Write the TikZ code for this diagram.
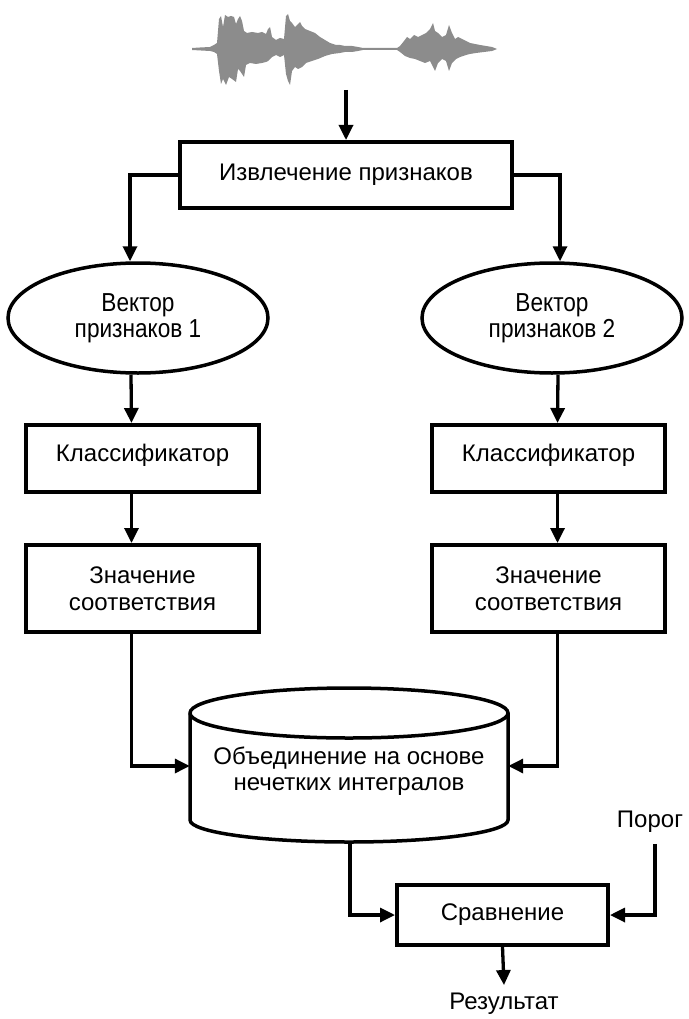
\documentclass[tikz,border=0pt]{standalone}
\usepackage{fontspec}
\setmainfont{Liberation Sans}
\newfontfamily\narrowsans[FakeStretch=0.87]{Liberation Sans}
\usetikzlibrary{arrows.meta,shapes.geometric}
\begin{document}
\begin{tikzpicture}[x=1pt,y=-1pt,
  box/.style={draw, line width=4pt, fill=white, align=center, inner sep=0pt,
    font=\fontsize{24}{27}\selectfont},
  ell/.style={draw, ellipse, line width=3.5pt, align=center, inner sep=0pt,
    font=\narrowsans\fontsize{26}{26}\selectfont},
  conn/.style={line width=3.3pt, -{Triangle[length=15pt,width=14pt]}},
  lbl/.style={inner sep=0pt, font=\fontsize{24}{27}\selectfont},
  wave/.style={fill=black!45, draw=none}]
\useasboundingbox (0,0) rectangle (688,1019);

% waveform
\path[wave] (192,48) -- (200,47.5) -- (210,47) -- (214,45) -- (217,43) -- (219,19) -- (221,16) -- (223,27) -- (225,15) -- (228,17) -- (231,16) -- (234,17) -- (236,24) -- (238,19) -- (240,16) -- (242,21) -- (244,31) -- (247,33) -- (252,32) -- (258,33) -- (262,32) -- (266,34) -- (268,29) -- (270,27) -- (272,37) -- (276,40) -- (280,38) -- (284,39) -- (286,16) -- (288,14) -- (290,21) -- (292,23) -- (295,27) -- (298,24) -- (300,22) -- (302,26) -- (305,29) -- (310,31) -- (315,33) -- (320,37) -- (325,40) -- (330,43) -- (336,45) -- (340,45) -- (345,46) -- (352,46) -- (358,47) -- (363,48) -- (397,48) -- (400,46) -- (404,41) -- (407,37) -- (410,39) -- (414,35) -- (418,37) -- (422,35) -- (426,33) -- (430,29) -- (433,23) -- (435,31) -- (438,33) -- (442,37) -- (446,35) -- (449,25) -- (452,33) -- (455,39) -- (458,37) -- (462,39) -- (466,41) -- (470,43) -- (475,44) -- (480,45) -- (486,46) -- (492,47) -- (497,49)
 -- (492,51) -- (484,52) -- (476,53) -- (470,54) -- (466,55) -- (460,57) -- (456,59) -- (452,63) -- (449,71) -- (446,61) -- (442,59) -- (438,63) -- (435,71) -- (430,61) -- (425,63) -- (420,61) -- (415,59) -- (410,58) -- (405,56) -- (400,52) -- (397,50) -- (363,50) -- (358,51) -- (352,52) -- (345,52) -- (340,53) -- (332,54) -- (325,56) -- (318,59) -- (312,61) -- (306,63) -- (302,67) -- (298,69) -- (295,67) -- (292,71) -- (290,85) -- (288,81) -- (286,74) -- (284,55) -- (280,57) -- (276,55) -- (272,57) -- (268,61) -- (266,62) -- (262,63) -- (256,64) -- (250,63) -- (246,65) -- (244,77) -- (240,71) -- (238,69) -- (236,82) -- (232,79) -- (229,77) -- (226,85) -- (223,79) -- (221,84) -- (219,71) -- (217,54) -- (214,52) -- (210,51) -- (192,50) -- cycle;
\coordinate (wav) at (346,90);

% nodes
\node[box, minimum width=332pt, minimum height=66pt] (extract) at (346,175) {Извлечение признаков};
\node[ell, minimum width=260pt, minimum height=110pt] (v1) at (138,318) {Вектор\\признаков 1};
\node[ell, minimum width=260pt, minimum height=110pt] (v2) at (552,318) {Вектор\\признаков 2};
\node[box, minimum width=233pt, minimum height=67pt, text height=17.5pt, text depth=11pt] (c1) at (142.5,458.5) {Классификатор};
\node[box, minimum width=233pt, minimum height=67pt, text height=17.5pt, text depth=11pt] (c2) at (548.5,458.5) {Классификатор};
\node[box, minimum width=233pt, minimum height=87pt] (m1) at (142.5,588.5) {Значение\\соответствия};
\node[box, minimum width=233pt, minimum height=87pt] (m2) at (548.5,588.5) {Значение\\соответствия};

% cylinder
\path[draw, fill=white, line width=3.5pt] (190,713) -- (190,820)
  arc[start angle=180, end angle=360, x radius=159pt, y radius=22pt]
  -- (508,713)
  arc[start angle=0, end angle=180, x radius=159pt, y radius=25pt] -- cycle;
\draw[line width=3.5pt] (190,713) arc[start angle=180, end angle=360, x radius=159pt, y radius=25pt];
\node[lbl, align=center, minimum width=318pt, font=\fontsize{24}{26}\selectfont] (fz) at (349,771) {Объединение на основе\\нечетких интегралов};
\coordinate (cylb) at (350,842);

\node[box, minimum width=211pt, minimum height=60pt] (cmp) at (502.5,915) {Сравнение};
\node[lbl] (thr) at (650,822) {Порог};
\node[lbl] (res) at (504,1004) {Результат};

% connectors
\draw[conn] (wav) -- (extract.north);
\draw[conn] (extract.west) -| ([xshift=-8pt]v1.north);
\draw[conn] (extract.east) -| ([xshift=8pt]v2.north);
\draw[conn] ([xshift=-7pt]v1.south) -- ([xshift=-11pt]c1.north);
\draw[conn] ([xshift=6pt]v2.south) -- ([xshift=9pt]c2.north);
\draw[conn] ([xshift=-11pt]c1.south) -- ([xshift=-11pt]m1.north);
\draw[conn] ([xshift=9pt]c2.south) -- ([xshift=9pt]m2.north);
\draw[conn] ([xshift=-11pt]m1.south) |- ([yshift=5pt]fz.west);
\draw[conn] ([xshift=9pt]m2.south) |- ([yshift=5pt]fz.east);
\draw[conn] (cylb) |- (cmp.west);
\draw[conn] ([xshift=5pt,yshift=-11pt]thr.south) |- (cmp.east);
\draw[conn] (cmp.south) -- ([yshift=8pt]res.north);
\end{tikzpicture}
\end{document}
